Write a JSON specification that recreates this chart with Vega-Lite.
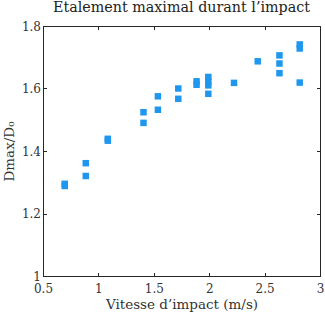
{
  "$schema": "https://vega.github.io/schema/vega-lite/v6.json",
  "autosize": {"type": "none"},
  "width": 277,
  "height": 250,
  "padding": {"left": 43, "top": 26, "right": 5, "bottom": 38},
  "background": "white",
  "title": {
    "text": "Etalement maximal durant l’impact",
    "font": "DejaVu Serif",
    "fontSize": 14.3,
    "fontWeight": "normal",
    "color": "#222222",
    "offset": 5
  },
  "config": {
    "view": {"stroke": "#262626", "strokeWidth": 1},
    "axis": {
      "labelFont": "DejaVu Serif",
      "titleFont": "DejaVu Serif",
      "labelFontSize": 12,
      "titleFontSize": 13.5,
      "titleFontWeight": "normal",
      "labelColor": "#333333",
      "titleColor": "#333333",
      "domainColor": "#262626",
      "tickColor": "#262626",
      "tickSize": -3.5,
      "labelFlush": false,
      "grid": false
    }
  },
  "data": {
    "values": [
      {"v": 0.696, "d": 1.288},
      {"v": 0.696, "d": 1.295},
      {"v": 0.886, "d": 1.320},
      {"v": 0.886, "d": 1.361},
      {"v": 1.085, "d": 1.433},
      {"v": 1.085, "d": 1.439},
      {"v": 1.407, "d": 1.490},
      {"v": 1.407, "d": 1.524},
      {"v": 1.537, "d": 1.532},
      {"v": 1.537, "d": 1.575},
      {"v": 1.721, "d": 1.567},
      {"v": 1.721, "d": 1.600},
      {"v": 1.886, "d": 1.612},
      {"v": 1.886, "d": 1.623},
      {"v": 1.992, "d": 1.583},
      {"v": 1.992, "d": 1.610},
      {"v": 1.992, "d": 1.623},
      {"v": 1.992, "d": 1.637},
      {"v": 2.224, "d": 1.618},
      {"v": 2.438, "d": 1.687},
      {"v": 2.634, "d": 1.649},
      {"v": 2.634, "d": 1.680},
      {"v": 2.634, "d": 1.706},
      {"v": 2.817, "d": 1.619},
      {"v": 2.817, "d": 1.728},
      {"v": 2.817, "d": 1.741}
    ]
  },
  "layer": [
    {
      "mark": {"type": "square", "size": 42, "color": "#1f97ee", "opacity": 1},
      "encoding": {
        "x": {
          "field": "v", "type": "quantitative",
          "scale": {"domain": [0.5, 3], "nice": false, "zero": false},
          "axis": {"values": [0.5, 1, 1.5, 2, 2.5, 3], "format": "~g", "title": "Vitesse d’impact (m/s)", "labelPadding": 11, "titlePadding": 3}
        },
        "y": {
          "field": "d", "type": "quantitative",
          "scale": {"domain": [1, 1.8], "nice": false, "zero": false},
          "axis": {"values": [1, 1.2, 1.4, 1.6, 1.8], "format": "~g", "title": "Dmax/D₀", "labelPadding": 6, "titlePadding": 5}
        }
      }
    },
    {
      "mark": {"type": "square", "size": 42, "opacity": 0},
      "encoding": {
        "x": {
          "field": "v", "type": "quantitative",
          "scale": {"domain": [0.5, 3], "nice": false, "zero": false},
          "axis": {"orient": "top", "values": [0.5, 1, 1.5, 2, 2.5, 3], "labels": false, "title": null, "domain": false}
        },
        "y": {
          "field": "d", "type": "quantitative",
          "scale": {"domain": [1, 1.8], "nice": false, "zero": false},
          "axis": {"orient": "right", "values": [1, 1.2, 1.4, 1.6, 1.8], "labels": false, "title": null, "domain": false}
        }
      }
    }
  ],
  "resolve": {"axis": {"x": "independent", "y": "independent"}}
}
